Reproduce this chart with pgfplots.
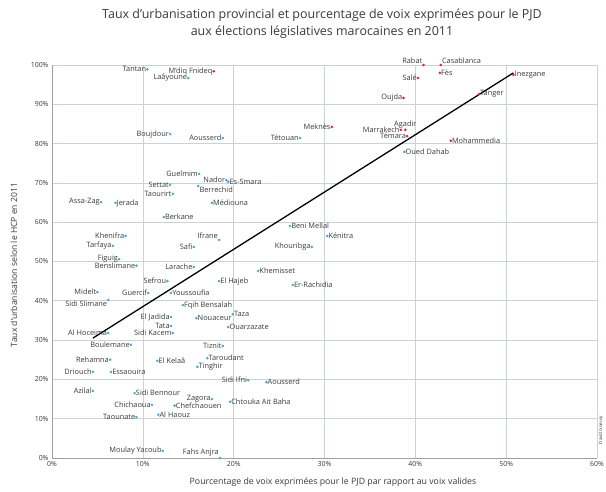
\documentclass[border=0pt]{standalone}
\usepackage{fontspec}
\setmainfont{Open Sans}
\usepackage{pgfplots}
\pgfplotsset{compat=1.18}
\definecolor{ptbleu}{HTML}{4AA3DF}
\definecolor{ptrouge}{HTML}{E3203A}
\definecolor{grille}{HTML}{C9D3DA}
\definecolor{texte}{HTML}{3A3A3A}

\pgfplotsset{
  pts/.style={only marks, mark=*, mark size=1.1pt, color=#1},
  lbl/.style={
    nodes near coords,
    point meta=explicit symbolic,
    every node near coord/.append style={anchor=#1, inner sep=1.1pt,
      font=\fontsize{7.4}{8}\selectfont, text=texte},
  },
}

\begin{document}
\begin{tikzpicture}
\useasboundingbox (-52bp,-34bp) rectangle (554bp,458bp);
\begin{axis}[
  scale only axis,
  width=545bp, height=393bp,
  xmin=0, xmax=60, ymin=0, ymax=100,
  xtick={0,10,...,60}, ytick={0,10,...,100},
  xticklabel={\pgfmathprintnumber{\tick}\%},
  yticklabel={\pgfmathprintnumber{\tick}\%},
  /pgf/number format/assume math mode=true,
  ticklabel style={font=\fontsize{7}{8}\selectfont, text=texte},
  grid=major, grid style={grille, line width=0.6pt},
  axis lines*=left,
  axis line style={gray!75, line width=0.9pt},
  tick style={draw=none},
  clip=false,
]
% droite de tendance
\addplot[black, line width=1.3pt] coordinates {(4.5,30.5) (50.8,98.0)};

% provinces, etiquette a gauche
\addplot[pts=ptbleu, lbl=east] coordinates {
(10.5,98.9) [Tantan]
(15.0,96.7) [Laâyoune]
(13.0,82.4) [Boujdour]
(18.8,81.4) [Aousserd]
(27.3,81.4) [Tétouan]
(16.2,72.3) [Guelmim]
(19.2,70.7) [Nador]
(13.0,69.5) [Settat]
(13.3,67.2) [Taourirt]
(5.4,65.1) [Assa-Zag]
(8.1,56.5) [Khenifra]
(6.7,54.0) [Tarfaya]
(15.6,53.7) [Safi]
(7.4,50.6) [Figuig]
(9.3,48.9) [Benslimane]
(15.6,48.6) [Larache]
(28.6,53.7) [Khouribga]
(12.7,45.0) [Sefrou]
(5.0,42.2) [Midelt]
(10.6,42.0) [Guercif]
(13.1,35.9) [El Jadida]
(13.1,33.6) [Tata]
(13.3,31.8) [Sidi Kacem]
(6.2,31.8) [Al Hoceima]
(8.7,28.8) [Boulemane]
(18.8,28.5) [Tiznit]
(6.4,25.0) [Rehamna]
(4.5,21.9) [Driouch]
(21.6,19.8) [Sidi Ifni]
(4.5,17.1) [Azilal]
(17.6,15.0) [Zagora]
(11.0,13.5) [Chichaoua]
(9.3,10.4) [Taounate]
(12.2,1.8) [Moulay Yacoub]
};
\addplot[pts=ptbleu, lbl=north east] coordinates {
(6.2,40.2) [Sidi Slimane]
};
\addplot[pts=ptbleu, lbl=south east] coordinates {
(18.4,55.5) [Ifrane]
(18.5,0.0) [Fahs Anjra]
};
% provinces, etiquette a droite
\addplot[pts=ptbleu, lbl=west] coordinates {
(38.8,77.9) [Oued Dahab]
(19.4,70.3) [Es-Smara]
(17.6,64.9) [Médiouna]
(7.0,64.9) [Jerada]
(12.3,61.3) [Berkane]
(26.2,59.0) [Beni Mellal]
(30.3,56.5) [Kénitra]
(22.7,47.6) [Khemisset]
(26.5,44.0) [Er-Rachidia]
(18.4,45.0) [El Hajeb]
(13.1,42.0) [Youssoufia]
(14.4,38.9) [Fqih Bensalah]
(15.9,35.6) [Nouaceur]
(19.9,36.6) [Taza]
(19.4,33.3) [Ouarzazate]
(11.6,24.7) [El Kelaâ]
(17.1,25.4) [Taroudant]
(16.0,23.2) [Tinghir]
(6.5,21.9) [Essaouira]
(23.6,19.3) [Aousserd]
(9.1,16.5) [Sidi Bennour]
(19.6,14.3) [Chtouka Ait Baha]
(13.5,13.3) [Chefchaouen]
(11.7,11.0) [Al Haouz]
};
\addplot[pts=ptbleu, lbl=north west] coordinates {
(16.1,69.2) [Berrechid]
};

% grandes villes
\addplot[pts=ptrouge, lbl=east] coordinates {
(40.3,96.7) [Salé]
(38.7,91.6) [Oujda]
(30.8,84.2) [Meknès]
(38.4,83.5) [Marrakech]
(39.1,81.9) [Témara]
(17.8,98.4) [M'diq Fnideq]
};
\addplot[pts=ptrouge, lbl=west] coordinates {
(42.7,98.0) [Fès]
(50.8,97.5) [Inezgane]
(47.0,92.6) [Tanger]
(43.9,80.7) [Mohammedia]
};
\addplot[pts=ptrouge, lbl=south east] coordinates {(40.9,100.0) [Rabat]};
\addplot[pts=ptrouge, lbl=south west] coordinates {(42.8,100.0) [Casablanca]};
\addplot[pts=ptrouge, lbl=south] coordinates {(38.9,83.5) [Agadir]};
\end{axis}
\node[font=\fontsize{12.5}{17}\selectfont, text=texte, align=center] at (270bp,434bp)
  {Taux d'urbanisation provincial et pourcentage de voix exprimées pour le PJD\\aux élections législatives marocaines en 2011};
\node[rotate=90, font=\fontsize{8.6}{9}\selectfont, text=texte] at (-38bp,193bp)
  {Taux d'urbanisation selon le HCP en 2011};
\node[font=\fontsize{8.8}{9}\selectfont, text=texte] at (281bp,-24bp)
  {Pourcentage de voix exprimées pour le PJD par rapport au voix valides};
\node[rotate=90, font=\fontsize{4.5}{5}\selectfont, text=texte] at (549bp,28bp) {David Goeury};
\end{tikzpicture}
\end{document}
